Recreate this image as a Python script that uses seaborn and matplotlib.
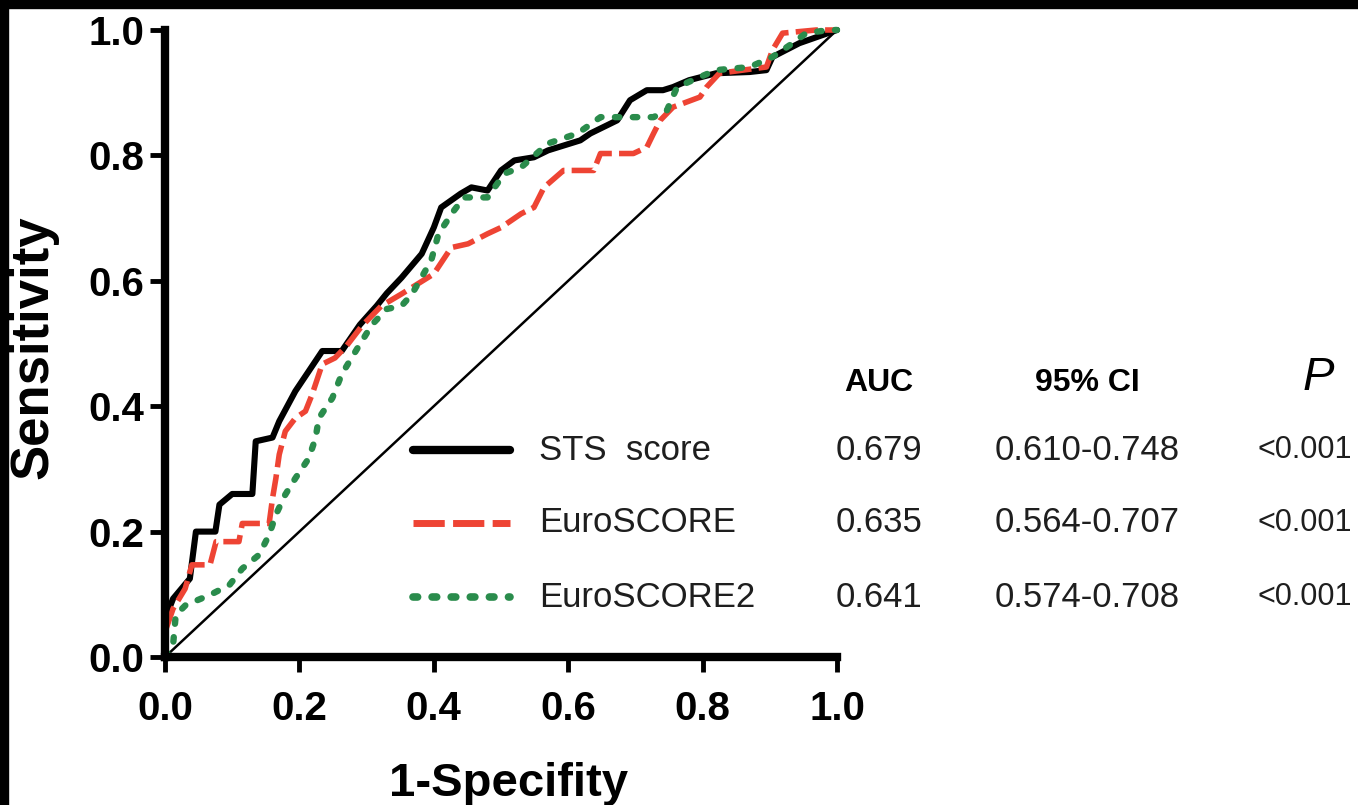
import matplotlib
matplotlib.use('Agg')
import matplotlib.pyplot as plt
import seaborn as sns
from matplotlib import font_manager
from matplotlib.lines import Line2D
from matplotlib.patches import Rectangle

# ROC points (1-specificity, sensitivity)
sts_fpr = [0, 0, 0.012, 0.037, 0.046, 0.075, 0.081, 0.10, 0.13, 0.135, 0.16, 0.17, 0.194, 0.234, 0.263,
           0.29, 0.315, 0.33, 0.352, 0.382, 0.40, 0.411, 0.44, 0.456, 0.48, 0.5, 0.52, 0.549, 0.57, 0.618,
           0.633, 0.673, 0.692, 0.717, 0.741, 0.756, 0.78, 0.82, 0.87, 0.895, 0.904, 0.944, 1.0]
sts_tpr = [0, 0.06, 0.093, 0.125, 0.2, 0.2, 0.243, 0.26, 0.26, 0.344, 0.35, 0.376, 0.424, 0.488, 0.488,
           0.53, 0.56, 0.58, 0.605, 0.643, 0.685, 0.717, 0.739, 0.749, 0.744, 0.776, 0.792, 0.797, 0.808, 0.824,
           0.835, 0.856, 0.888, 0.904, 0.904, 0.909, 0.92, 0.931, 0.933, 0.936, 0.957, 0.979, 1.0]

euro_fpr = [0, 0, 0.012, 0.03, 0.04, 0.067, 0.076, 0.11, 0.115, 0.155, 0.16, 0.165, 0.17, 0.179, 0.194,
            0.209, 0.219, 0.234, 0.253, 0.27, 0.293, 0.322, 0.352, 0.40, 0.426, 0.451, 0.48, 0.5, 0.53, 0.549,
            0.564, 0.593, 0.638, 0.648, 0.697, 0.717, 0.727, 0.737, 0.756, 0.796, 0.806, 0.825, 0.895, 0.904,
            0.919, 0.969, 1.0]
euro_tpr = [0, 0.04, 0.077, 0.109, 0.147, 0.147, 0.184, 0.184, 0.213, 0.213, 0.253, 0.285, 0.323, 0.36, 0.381,
            0.392, 0.419, 0.467, 0.477, 0.496, 0.528, 0.56, 0.579, 0.611, 0.653, 0.659, 0.675, 0.685, 0.707, 0.717,
            0.749, 0.776, 0.776, 0.803, 0.803, 0.813, 0.835, 0.856, 0.877, 0.893, 0.909, 0.931, 0.941, 0.968,
            0.995, 1.0, 1.0]

euro2_fpr = [0, 0.012, 0.016, 0.031, 0.067, 0.096, 0.115, 0.14, 0.155, 0.165, 0.179, 0.194, 0.214, 0.224,
             0.229, 0.249, 0.263, 0.285, 0.308, 0.33, 0.352, 0.367, 0.396, 0.407, 0.43, 0.445, 0.48, 0.505, 0.53,
             0.57, 0.614, 0.648, 0.727, 0.747, 0.762, 0.796, 0.82, 0.87, 0.904, 0.934, 0.954, 0.988, 1.0]
euro2_tpr = [0, 0.019, 0.067, 0.083, 0.099, 0.115, 0.141, 0.163, 0.195, 0.227, 0.259, 0.285, 0.317, 0.349,
             0.381, 0.413, 0.451, 0.49, 0.53, 0.555, 0.56, 0.578, 0.632, 0.675, 0.712, 0.733, 0.733, 0.771, 0.781,
             0.819, 0.835, 0.861, 0.861, 0.872, 0.909, 0.925, 0.936, 0.941, 0.957, 0.979, 0.995, 1.0, 1.0]

# table next to the plot
models = ['STS  score', 'EuroSCORE', 'EuroSCORE2']
auc = ['0.679', '0.635', '0.641']
ci = ['0.610-0.748', '0.564-0.707', '0.574-0.708']
pvals = ['<0.001', '<0.001', '<0.001']

red = '#ee4434'
green = '#2a8c4c'

sns.set_style('ticks')
plt.rcParams['font.family'] = ['Liberation Sans', 'DejaVu Sans']
plt.rcParams['text.color'] = 'black'
plt.rcParams['axes.edgecolor'] = 'black'
plt.rcParams['xtick.color'] = 'black'
plt.rcParams['ytick.color'] = 'black'

# narrow font for the table if it is around
font_names = {f.name for f in font_manager.fontManager.ttflist}
if 'Liberation Sans Narrow' in font_names:
    table_font = ['Liberation Sans Narrow', 'Liberation Sans']
    table_size = 29
else:
    table_font = ['Liberation Sans', 'DejaVu Sans']
    table_size = 25
table_color = '#1e1e1e'

fig = plt.figure(figsize=(13.58, 8.05), dpi=100)
ax = fig.add_axes([165 / 1358, 1 - 657 / 805, 672 / 1358, 627 / 805])

# diagonal reference
sns.lineplot(x=[0, 1], y=[0, 1], ax=ax, color='black', lw=1.8, sort=False, estimator=None)
sns.lineplot(x=sts_fpr, y=sts_tpr, ax=ax, color='black', lw=4.4, sort=False, estimator=None)
sns.lineplot(x=euro_fpr, y=euro_tpr, ax=ax, color=red, lw=4.0, sort=False, estimator=None)
sns.lineplot(x=euro2_fpr, y=euro2_tpr, ax=ax, color=green, lw=4.6, sort=False, estimator=None)

lines = ax.get_lines()
lines[2].set_dashes((4.0, 1.3))
lines[3].set_dashes((0.7, 2.1))
lines[3].set_dash_capstyle('round')
for ln in lines:
    ln.set_clip_on(False)

ax.set_xlim(0, 1)
ax.set_ylim(0, 1)
ax.set_xticks([0, 0.2, 0.4, 0.6, 0.8, 1.0])
ax.set_yticks([0, 0.2, 0.4, 0.6, 0.8, 1.0])
ax.set_xticklabels(['0.0', '0.2', '0.4', '0.6', '0.8', '1.0'])
ax.set_yticklabels(['0.0', '0.2', '0.4', '0.6', '0.8', '1.0'])
sns.despine(ax=ax)
for side in ['left', 'bottom']:
    ax.spines[side].set_linewidth(6)
    ax.spines[side].set_color('black')
    ax.spines[side].set_capstyle('projecting')
ax.tick_params(width=3.5, length=11, direction='out', labelsize=29, color='black', labelcolor='black')
ax.tick_params(axis='x', pad=13)
ax.tick_params(axis='y', pad=4)
for lab in ax.get_xticklabels() + ax.get_yticklabels():
    lab.set_fontweight('bold')

fig.text(33 / 1358, 1 - 347 / 805, 'Sensitivity', rotation=90, fontsize=38, fontweight='bold',
         ha='center', va='center')
fig.text(508 / 1358, 1 - 784 / 805, '1-Specifity', fontsize=34, fontweight='bold',
         ha='center', va='center')

# table with legend keys
row_y = [450, 523, 597]
key_styles = [dict(color='black', lw=6),
              dict(color=red, lw=5, dashes=(4.5, 1.2)),
              dict(color=green, lw=5.5, dashes=(0.6, 1.9), dash_capstyle='round')]
for i in range(3):
    yf = 1 - row_y[i] / 805
    fig.add_artist(Line2D([413 / 1358, 510 / 1358], [yf, yf], transform=fig.transFigure, **key_styles[i]))
    fig.text(539 / 1358, yf, models[i], family=table_font, fontsize=table_size, color=table_color,
             ha='left', va='center')
    fig.text(879 / 1358, yf, auc[i], family=table_font, fontsize=table_size, color=table_color,
             ha='center', va='center')
    fig.text(1087 / 1358, yf, ci[i], family=table_font, fontsize=table_size, color=table_color,
             ha='center', va='center')
    fig.text(1352 / 1358, yf, pvals[i], family=table_font, fontsize=table_size - 3, color=table_color,
             ha='right', va='center')

head_y = 1 - 383 / 805
fig.text(879 / 1358, head_y, 'AUC', family=table_font, fontsize=table_size - 2, fontweight='bold',
         ha='center', va='center')
fig.text(1087 / 1358, head_y, '95% CI', family=table_font, fontsize=table_size - 2, fontweight='bold',
         ha='center', va='center')
fig.text(1318 / 1358, 1 - 378 / 805, 'P', fontsize=34, fontstyle='italic', ha='center', va='center')

# black strip on the top and left edge of the original image
fig.add_artist(Rectangle((0, 1 - 8 / 805), 1, 8 / 805, transform=fig.transFigure, color='black'))
fig.add_artist(Rectangle((0, 0), 8 / 1358, 1, transform=fig.transFigure, color='black'))

fig.savefig('out.png', dpi=100)
